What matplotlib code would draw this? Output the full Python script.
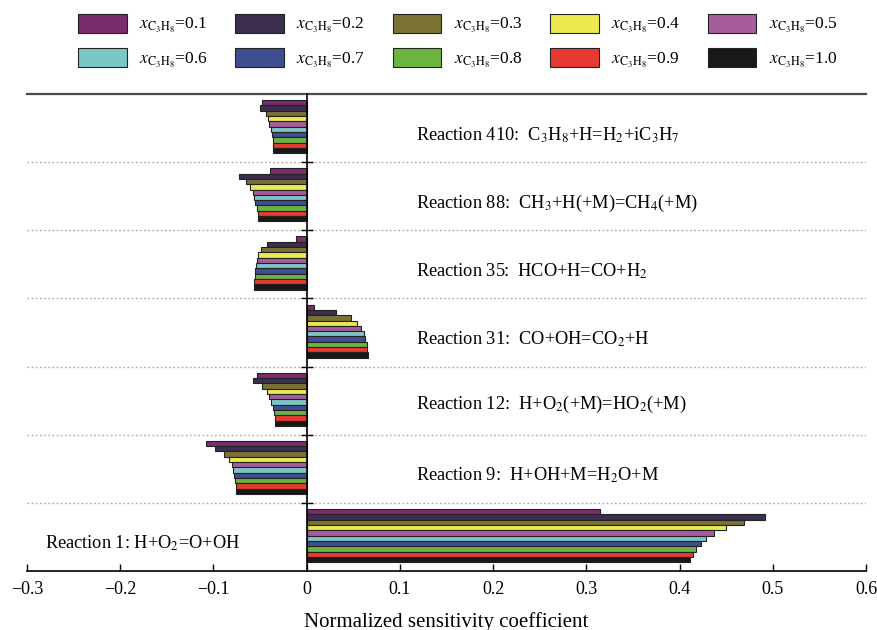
import matplotlib
matplotlib.use("Agg")
import matplotlib.pyplot as plt
from matplotlib.patches import Patch
import numpy as np

plt.rcParams['font.family'] = ['Liberation Serif', 'DejaVu Serif']
plt.rcParams['mathtext.fontset'] = 'stix'
plt.rcParams['axes.unicode_minus'] = True

# ---- data ----
fractions = ['0.1', '0.2', '0.3', '0.4', '0.5', '0.6', '0.7', '0.8', '0.9', '1.0']
colors = ['#7b2c6f', '#3b2e4e', '#7a7232', '#ece94f', '#a65c9d',
          '#7cc6c6', '#3f4e90', '#6cb33f', '#e53a31', '#1a1717']

reactions = [
    r'Reaction 410:  C$_3$H$_8$+H=H$_2$+iC$_3$H$_7$',
    r'Reaction 88:  CH$_3$+H(+M)=CH$_4$(+M)',
    r'Reaction 35:  HCO+H=CO+H$_2$',
    r'Reaction 31:  CO+OH=CO$_2$+H',
    r'Reaction 12:  H+O$_2$(+M)=HO$_2$(+M)',
    r'Reaction 9:  H+OH+M=H$_2$O+M',
    r'Reaction 1: H+O$_2$=O+OH',
]

r410 = [-0.048, -0.0505, -0.044, -0.0415, -0.040, -0.038, -0.037, -0.0365, -0.036, -0.036]
r88 = [-0.039, -0.073, -0.065, -0.0605, -0.0577, -0.056, -0.055, -0.0534, -0.052, -0.052]
r35 = [-0.011, -0.0426, -0.049, -0.052, -0.0534, -0.054, -0.055, -0.0555, -0.056, -0.056]
r31 = [0.008, 0.032, 0.048, 0.0545, 0.0588, 0.0612, 0.063, 0.0645, 0.065, 0.066]
r12 = [-0.0534, -0.0577, -0.048, -0.0426, -0.040, -0.038, -0.0365, -0.0354, -0.0344, -0.034]
r9 = [-0.1085, -0.0988, -0.0887, -0.0837, -0.0805, -0.079, -0.0776, -0.0766, -0.076, -0.0755]
r1 = [0.315, 0.492, 0.4686, 0.4497, 0.437, 0.428, 0.4226, 0.4176, 0.414, 0.411]
values = [r410, r88, r35, r31, r12, r9, r1]

xticks = [-0.3, -0.2, -0.1, 0, 0.1, 0.2, 0.3, 0.4, 0.5, 0.6]
xticklabels = ['\u22120.3', '\u22120.2', '\u22120.1', '0', '0.1', '0.2', '0.3', '0.4', '0.5', '0.6']

# ---- figure ----
W, H = 877, 630
fig = plt.figure(figsize=(W / 100, H / 100), dpi=100)
ax = fig.add_axes([27 / W, 1 - 571 / H, (866 - 27) / W, (571 - 94) / H])

n_groups = len(reactions)
n_series = len(fractions)
top_off = 0.09
bar_h = 0.78 / n_series

for g, vals in enumerate(values):
    ys = g + top_off + (np.arange(n_series) + 0.5) * bar_h
    for j in range(n_series):
        ax.barh(ys[j], vals[j], height=bar_h, color=colors[j],
                edgecolor='#222222', linewidth=0.8, zorder=3)

# separators
for g in range(1, n_groups):
    ax.axhline(g, color='#a8a8a8', linestyle=(0, (1.2, 1.8)), linewidth=1.0, zorder=1)

# text labels
label_pos = [(0.117, 0.60), (0.117, 0.60), (0.117, 0.60), (0.117, 0.60),
             (0.117, 0.56), (0.117, 0.60), (-0.281, 0.60)]
for g, (txt, (lx, ly)) in enumerate(zip(reactions, label_pos)):
    ax.text(lx, g + ly, txt, fontsize=13.2, va='center', ha='left', zorder=4)

ax.set_xlim(-0.3, 0.6)
ax.set_ylim(n_groups, 0)

# spines
ax.spines['right'].set_visible(False)
ax.spines['top'].set_color('#4a4a4a')
ax.spines['top'].set_linewidth(1.6)
ax.spines['bottom'].set_linewidth(1.2)
ax.spines['left'].set_position(('data', 0))
ax.spines['left'].set_linewidth(1.2)
ax.spines['left'].set_zorder(5)

ax.set_xticks(xticks)
ax.set_xticklabels(xticklabels, fontsize=13)
ax.tick_params(axis='x', direction='in', length=5, width=1, pad=7)
ax.set_yticks(np.arange(1, n_groups))
ax.set_yticklabels([])
ax.tick_params(axis='y', direction='inout', length=8, width=1)

ax.set_xlabel('Normalized sensitivity coefficient', fontsize=15, labelpad=10)

# legend (row-wise order in a 2 x 5 grid)
handles = [Patch(facecolor=c, edgecolor='#222222', linewidth=0.8) for c in colors]
labels = [r'$x_{\mathrm{C_3H_8}}$=' + f for f in fractions]
order = [0, 5, 1, 6, 2, 7, 3, 8, 4, 9]
fig.legend([handles[i] for i in order], [labels[i] for i in order],
           ncol=5, loc='upper left',
           bbox_to_anchor=(78 / W, 1 - 14 / H), frameon=False, fontsize=12.5,
           handlelength=2.8, handleheight=1.3, handletextpad=0.7,
           columnspacing=1.6, labelspacing=0.75, borderaxespad=0, borderpad=0)

fig.savefig('out.png', dpi=100)
